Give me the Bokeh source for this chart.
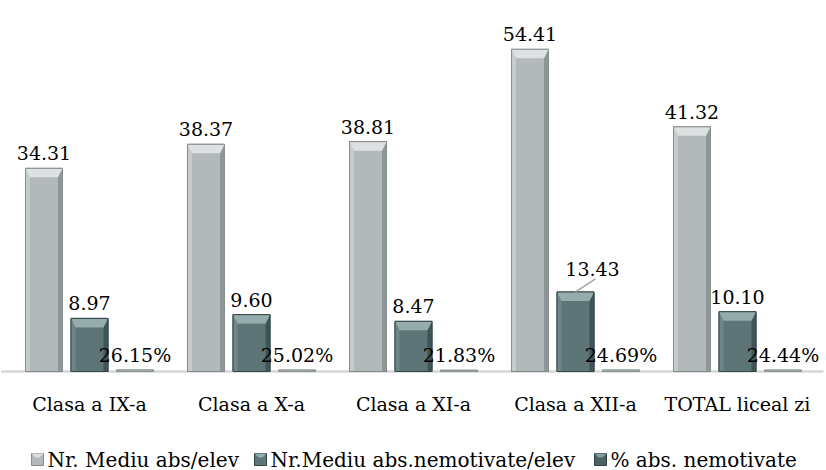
from bokeh.plotting import figure
from bokeh.models import Range1d, ColumnDataSource
from bokeh.core.properties import value
from bokeh.embed import file_html
from bokeh.resources import INLINE

categories = ["Clasa a IX-a", "Clasa a X-a", "Clasa a XI-a", "Clasa a XII-a", "TOTAL liceal zi"]
medie_abs = [34.31, 38.37, 38.81, 54.41, 41.32]
medie_nemot = [8.97, 9.60, 8.47, 13.43, 10.10]
pct_nemot = [0.2615, 0.2502, 0.2183, 0.2469, 0.2444]
series_names = ["Nr. Mediu abs/elev", "Nr.Mediu abs.nemotivate/elev", "% abs. nemotivate"]

FONT = "DejaVu Serif"
W, H = 826, 470
PX_X = 162.0            # pixels per category
PX_Y = 363 / 61.3       # pixels per unit
LEFT_PAD = 8
BASE_Y = 371            # baseline from top
LEGEND_PX = [31, 254, 594]   # legend item left edges (layout)
LEGEND_CY = 459              # legend centre line from top (layout)

x_lo = -LEFT_PAD / PX_X
x_hi = (W - LEFT_PAD) / PX_X
y_hi = BASE_Y / PX_Y
y_lo = -(H - BASE_Y) / PX_Y


def px_to_x(px):
    return x_lo + px / PX_X


def py_to_y(py):
    return (BASE_Y - py) / PX_Y


p = figure(frame_width=W, frame_height=H, output_backend="svg", toolbar_location=None,
           x_range=Range1d(x_lo, x_hi), y_range=Range1d(y_lo, y_hi),
           x_axis_location=None, y_axis_location=None,
           min_border_left=0, min_border_right=0, min_border_top=0, min_border_bottom=0)
p.outline_line_color = None
p.xgrid.visible = False
p.ygrid.visible = False
p.background_fill_color = "white"

# category axis line
p.segment(x0=[x_lo + 0.5 / PX_X], y0=[0], x1=[x_hi - 3 / PX_X], y1=[0],
          line_color="#d6d6d6", line_width=2.5)

BW = 37 / PX_X
offsets = [-45.5 / PX_X, 0.0, 45.5 / PX_X]
styles = [
    dict(body="#b3b9bb", top="#dde1e2", left="#c6cbcc", right="#8f9698", line="#858c8e"),
    dict(body="#5d7577", top="#95abac", left="#6e8688", right="#3f5456", line="#34484a"),
    dict(body="#4f6668", top="#c9cfd0", left="#bfc5c6", right="#9aa2a3", line="#8c9495"),
]
legend_fill = ["#b3b9bb", "#5d7577", "#4a6264"]
legend_top = ["#dde1e2", "#95abac", "#869c9d"]
legend_line = ["#858c8e", "#34484a", "#2e4042"]

all_vals = [medie_abs, medie_nemot, pct_nemot]
for s, vals in enumerate(all_vals):
    st = styles[s]
    cx = [i + 0.5 + offsets[s] for i in range(5)]
    x0 = [c - BW / 2 for c in cx]
    x1 = [c + BW / 2 for c in cx]
    bx = 4.5 / PX_X
    bys = [min(9 / PX_Y, v * 0.45) for v in vals]
    p.quad(left=x0, right=x1, bottom=0, top=vals, fill_color=st["body"],
           line_color=st["line"], line_width=1)
    p.patches(xs=[[a, a + bx, a + bx, a] for a in x0],
              ys=[[v, v - by, 0, 0] for v, by in zip(vals, bys)],
              fill_color=st["left"], line_color=None)
    p.patches(xs=[[b, b - bx, b - bx, b] for b in x1],
              ys=[[v, v - by, 0, 0] for v, by in zip(vals, bys)],
              fill_color=st["right"], line_color=None)
    p.patches(xs=[[a, b, b - bx, a + bx] for a, b in zip(x0, x1)],
              ys=[[v, v, v - by, v - by] for v, by in zip(vals, bys)],
              fill_color=st["top"], line_color=None)
    p.quad(left=x0, right=x1, bottom=0, top=vals, fill_color=None,
           line_color=st["line"], line_width=1)

    if s == 2:
        texts = [f"{v * 100:.2f}%" for v in vals]
    else:
        texts = [f"{v:.2f}" for v in vals]
    xo = [0] * 5
    yo = [-15] * 5
    if s == 1:
        k = vals.index(max(vals))
        xo[k] = 17
        yo[k] = -23
        p.segment(x0=[cx[k]], y0=[vals[k]], x1=[cx[k] + 20 / PX_X], y1=[vals[k] + 13 / PX_Y],
                  line_color="#a6a6a6", line_width=1.5)
    src = ColumnDataSource(dict(x=cx, y=vals, t=texts, xo=xo, yo=yo))
    p.text(x="x", y="y", text="t", x_offset="xo", y_offset="yo", source=src,
           text_font=value(FONT), text_font_size="19px", text_color="black",
           text_align="center", text_baseline="alphabetic")

# category labels
p.text(x=[i + 0.5 for i in range(5)], y=[0] * 5, text=categories, y_offset=21,
       text_font=value(FONT), text_font_size="19px", text_color="black",
       text_align="center", text_baseline="top")

# legend (drawn with glyphs)
SQ = 12
lx0 = [px_to_x(px) for px in LEGEND_PX]
lx1 = [px_to_x(px + SQ) for px in LEGEND_PX]
ly0 = py_to_y(LEGEND_CY + SQ / 2)
ly1 = py_to_y(LEGEND_CY - SQ / 2)
p.quad(left=lx0, right=lx1, bottom=ly0, top=ly1, fill_color=legend_fill,
       line_color=legend_line, line_width=1)
bv = 4 / PX_X
bvy = 4 / PX_Y
p.patches(xs=[[a, b, b - bv, a + bv] for a, b in zip(lx0, lx1)],
          ys=[[ly1, ly1, ly1 - bvy, ly1 - bvy]] * 3,
          fill_color=legend_top, line_color=None)
p.text(x=[px_to_x(px + SQ + 4) for px in LEGEND_PX], y=[py_to_y(LEGEND_CY)] * 3,
       text=series_names, text_font=value(FONT), text_font_size="20px",
       text_color="black", text_align="left", text_baseline="middle")

open("out.html", "w").write(file_html(p, INLINE))
